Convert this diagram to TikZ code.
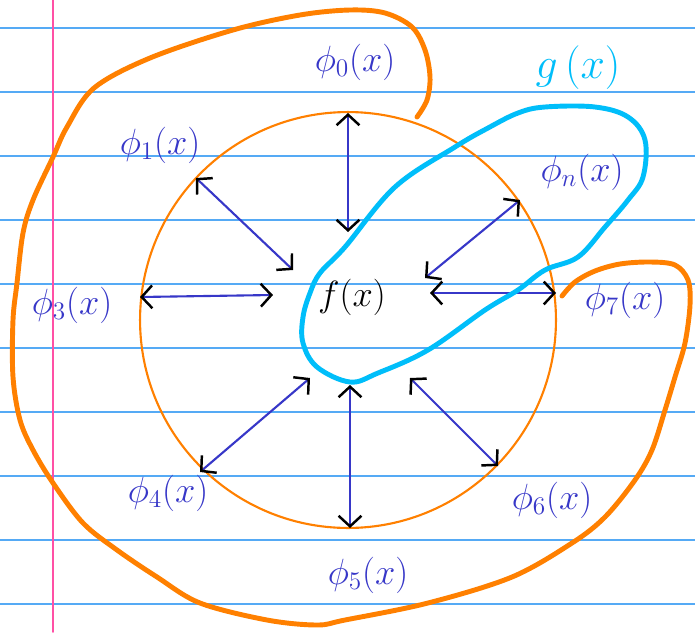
\documentclass[tikz,border=0pt]{standalone}
\usetikzlibrary{arrows.meta}
\definecolor{paperline}{RGB}{85,170,245}
\definecolor{margin}{RGB}{255,80,165}
\definecolor{pen}{RGB}{255,128,0}
\definecolor{hilite}{RGB}{0,190,250}
\definecolor{ink}{RGB}{55,55,200}
\tikzset{
  basis/.style={ink, line width=1.2pt, >={Straight Barb[color=black, length=6pt, width=13pt, line width=1.4pt]}, <->},
  lbl/.style={ink, font=\huge},
}
\begin{document}
\begin{tikzpicture}[x=0.02cm, y=-0.02cm, line cap=round, line join=round]
\useasboundingbox (0,0) rectangle (695,632);
\fill[white] (0,0) rectangle (695,632);

% ruled paper
\foreach \k in {0,...,9}
  \draw[paperline, line width=0.8pt] (0,28+64*\k) -- (695,28+64*\k);
\draw[margin, line width=0.9pt] (53,0) -- (53,632);

% inner circle
\draw[pen, line width=1.2pt] (348,320) circle[radius=4.16cm];

% arrow ends
\coordinate (o0) at (348,232); \coordinate (e0) at (348,113);
\coordinate (o1) at (293,270); \coordinate (e1) at (196,178);
\coordinate (on) at (425,278); \coordinate (en) at (520,200);
\coordinate (o3) at (273,295); \coordinate (e3) at (140,297);
\coordinate (o7) at (430,293); \coordinate (e7) at (556,293);
\coordinate (o4) at (310,378); \coordinate (e4) at (200,472);
\coordinate (o5) at (350,385); \coordinate (e5) at (350,528);
\coordinate (o6) at (410,378); \coordinate (e6) at (498,466);

\draw[basis] (o0) -- (e0);
\draw[basis] (o1) -- (e1);
\draw[basis] (on) -- (en);
\draw[basis] (o3) -- (e3);
\draw[basis] (o7) -- (e7);
\draw[basis] (o4) -- (e4);
\draw[basis] (o5) -- (e5);
\draw[basis] (o6) -- (e6);

% g(x) loop
\draw[hilite, line width=2.8pt] plot[smooth cycle, tension=0.6] coordinates {
  (545,107) (595,107) (628,117) (645,140) (643,177) (628,200) (605,227)
  (578,257) (545,270) (518,290) (485,310) (428,350) (378,373) (350,382)
  (317,367) (303,343) (303,317) (310,293) (320,273) (345,247) (395,187)
  (455,147) (488,128) (518,113)};

% outer loop
\draw[pen, line width=2.8pt] plot[smooth, tension=0.55] coordinates {
  (417,117) (427,100) (430,77) (425,50) (412,27) (385,13) (350,10) (300,15)
  (233,30) (150,58) (94,88) (67,127) (53,157) (33,200) (23,233) (17,283)
  (13,320) (13,377) (20,420) (33,450) (53,483) (83,523) (117,550) (157,577)
  (200,603) (267,620) (317,625) (345,620) (428,603) (512,577) (572,543)
  (605,517) (635,480) (652,450) (665,410) (675,377) (685,343) (690,305)
  (688,280) (675,265) (650,262) (620,264) (595,271) (575,282) (562,296)};

% labels
\node[lbl] (phi0) at (355,62) {$\phi_0(x)$};
\node[lbl] (phi1) at (160,145) {$\phi_1(x)$};
\node[lbl] (phin) at (582,172) {$\phi_n(x)$};
\node[lbl] (phi3) at (72,305) {$\phi_3(x)$};
\node[lbl] (phi7) at (625,300) {$\phi_7(x)$};
\node[lbl] (phi4) at (168,493) {$\phi_4(x)$};
\node[lbl] (phi5) at (368,575) {$\phi_5(x)$};
\node[lbl] (phi6) at (552,500) {$\phi_6(x)$};
\node[font=\huge] (f) at (352,297) {$f(x)$};
\node[hilite, font=\Huge] (g) at (578,68) {$g\,(x)$};
\end{tikzpicture}
\end{document}
